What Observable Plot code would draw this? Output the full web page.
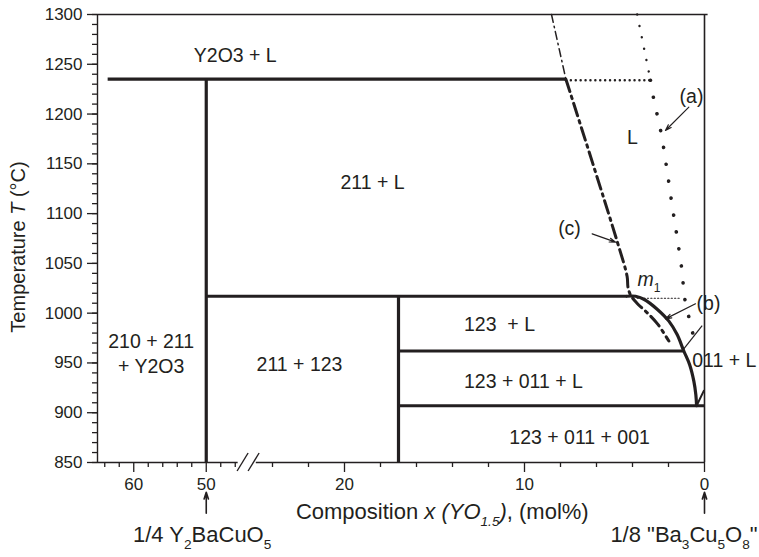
<!DOCTYPE html>
<html><head><meta charset="utf-8">
<script src="https://cdn.jsdelivr.net/npm/d3@7"></script>
<script src="https://cdn.jsdelivr.net/npm/@observablehq/plot@0.6"></script>
<style>
body{margin:0;background:#fff;}
#chart svg{display:block;}
#chart text{white-space:pre;}
</style>
</head><body><div id="chart"></div>
<script>
const INK = "#231f20";
const FONT = "'Liberation Sans', Arial, Helvetica, sans-serif";

// ---- axes ----
const xDomain = [65, 45, 25, 0];          // broken axis: 45 … 25 is cut out
const xMajorTicks = [60, 50, 20, 10, 0];
const xMinorTicks = [64, 62, 58, 56, 54, 52, 48, 46, 24, 22, 18, 16, 14, 12, 8, 6, 4, 2];
const yMajorTicks = [850, 900, 950, 1000, 1050, 1100, 1150, 1200, 1250, 1300];
const yMinorTicks = d3.range(850, 1301, 10);

// ---- solid phase boundaries [x1, T1, x2, T2] ----
const solidSegments = [
  [63.6, 1235, 7.7, 1235],
  [50, 1235, 50, 850],
  [50, 1017, 4.3, 1017],
  [17, 1017, 17, 850],
  [17, 962, 1.15, 962],
  [17, 907, 0, 907]
];
// liquidus of 123 (curved solid line)
const curveX = [4.3, 3.83, 3.37, 2.63, 1.98, 1.52, 1.15, 0.82, 0.59, 0.48, 0.44];
const curveT = [1017, 1017, 1014, 1004, 992, 978.5, 962, 948, 931.5, 918, 907];
// small 011 + L boundary near x = 0
const smallX = [0.44, 0.04];
const smallT = [907, 922];

// ---- (c) dash-dot line ----
const cUpperX = [8.5, 7.7];
const cUpperT = [1300, 1235];
const cLowerX = [7.7, 4.85, 4.3, 4.25, 4.1, 3.75, 3.1, 2.6, 1.98];
const cLowerT = [1235, 1072, 1037, 1026, 1018, 1010, 999, 989, 972];

// ---- (a) dotted line ----
const aUpperX = [3.74, 3.0];
const aUpperT = [1300, 1234];
const aLowerX = [3.0, 2.82, 2.41, 2.11, 1.82, 1.52, 1.24, 1.11, 0.68, 0.5];
const aLowerT = [1234, 1215, 1181, 1147, 1111, 1076, 1041, 1016, 982, 967];
// horizontal dotted tie-lines
const dotted1234 = [[7.7, 1234], [3.0, 1234]];
const dottedM1 = [[3.74, 1015], [1.33, 1015]];

// ---- region labels ----
const regionText = ["Y2O3 + L", "211 + L", "L", "210 + 211\n+ Y2O3", "211 + 123", "123  + L", "123 + 011 + L", "123 + 011 + 001"];
const regionX = [46, 18.44, 4.0, 57.6, 22.5, 11.39, 10.06, 6.94];
const regionT = [1260, 1133, 1177.5, 960.5, 949.5, 989.6, 932.4, 876.1];
// left-anchored labels
const startText = ["011 + L", "*m*_{1}"];
const startX = [0.68, 3.72];
const startT = [952.5, 1033.8];
// curve tags
const tagText = ["(a)", "(b)", "(c)"];
const tagX = [0.72, -0.22, 7.5];
const tagT = [1217.6, 1009.7, 1085];
// pointer arrows [x1, T1, x2, T2]
const pointerArrows = [
  [0.87, 1206.9, 2.17, 1183.5],
  [6.24, 1079.7, 4.94, 1071.3],
  [0.5, 1009.4, 2.17, 994.3]
];
const pointerLines = [[0.13, 987.6, 1.15, 964.2]];
// composition end-member markers below the axis
const endArrowsX = [50, 0];
const endArrowT = [799, 820];
const endLeftText = "1/4 Y_{2}BaCuO_{5}";
const endLeftPos = [60.1, 777];
const endRightText = "1/8 \"Ba_{3}Cu_{5}O_{8}\"";
const endRightPos = [-2.95, 777];
// axis titles
const xTitle = "Composition *x (YO_{1.5})*, (mol%)";
const xTitlePos = [22.7, 800];
const yTitle = "Temperature *T* (°C)";
const yTitlePos = [75.9, 1066.5];

// rich text: *italic*, _{subscript}
function rich(fs) {
  const subFs = fs * 0.62, shift = fs * 0.32;
  return function (index, scales, values, dims, context, next) {
    const g = next(index, scales, values, dims, context);
    for (const t of g.querySelectorAll("text")) {
      const src = t.textContent;
      if (!/[_*]/.test(src)) continue;
      while (t.firstChild) t.removeChild(t.firstChild);
      let italic = false, sub = false, buf = "", cur = 0;
      const flush = () => {
        if (!buf) return;
        const s = document.createElementNS("http://www.w3.org/2000/svg", "tspan");
        s.textContent = buf;
        if (italic) s.setAttribute("font-style", "italic");
        const want = sub ? shift : 0;
        if (want !== cur) s.setAttribute("dy", want - cur);
        cur = want;
        if (sub) s.setAttribute("font-size", subFs);
        t.appendChild(s);
        buf = "";
      };
      for (let i = 0; i < src.length; i++) {
        const c = src[i];
        if (c === "*") { flush(); italic = !italic; }
        else if (c === "_" && src[i + 1] === "{") { flush(); sub = true; i++; }
        else if (c === "}" && sub) { flush(); sub = false; }
        else buf += c;
      }
      flush();
    }
    return g;
  };
}

// axis break marks drawn from the x scale
function axisBreak(index, scales, values, dims) {
  const mid = (scales.x(xDomain[1]) + scales.x(xDomain[2])) / 2;
  const y0 = scales.y(850);
  const g = d3.create("svg:g").attr("stroke", INK).attr("stroke-width", 1.4).attr("fill", "none");
  for (const off of [-5.4, 5.6]) {
    g.append("line").attr("x1", mid + off - 5.5).attr("y1", y0 + 9)
      .attr("x2", mid + off + 5.5).attr("y2", y0 - 9);
  }
  return g.node();
}

const seg = (arr) => arr.map(d => ({x1: d[0], y1: d[1], x2: d[2], y2: d[3]}));
const pts = (xs, ts) => xs.map((x, i) => ({x, y: ts[i]}));

const plot = Plot.plot({
  width: 759,
  height: 557,
  marginTop: 14,
  marginBottom: 95,
  marginLeft: 97,
  marginRight: 55,
  style: {fontFamily: FONT, color: INK, background: "#fff", overflow: "visible"},
  x: {type: "linear", domain: xDomain, range: [97, 242, 254, 704], label: null},
  y: {domain: [850, 1300], label: null},
  marks: [
    // frame
    Plot.ruleX([65], {y1: 850, y2: 1300, stroke: INK, strokeWidth: 1.4}),
    Plot.ruleX([0], {y1: 850, y2: 1300, stroke: INK, strokeWidth: 1.6}),
    Plot.ruleY([1300], {x1: 65, x2: -0.2, stroke: INK, strokeWidth: 1.4}),
    Plot.ruleY([850], {x1: 65, x2: 45.6, stroke: INK, strokeWidth: 1.4}),
    Plot.ruleY([850], {x1: 24.9, x2: 0, stroke: INK, strokeWidth: 1.4}),
    axisBreak,
    // axes
    Plot.axisY(yMinorTicks, {anchor: "left", tickSize: 5, stroke: INK, strokeWidth: 1.3, fill: "none", label: null}),
    Plot.axisY(yMajorTicks, {anchor: "left", tickSize: 10, tickPadding: 5, tickFormat: d => String(d), fontSize: 17, stroke: INK, strokeWidth: 1.3, fill: INK, label: null}),
    Plot.axisX(xMinorTicks, {anchor: "bottom", tickSize: 5, stroke: INK, strokeWidth: 1.3, fill: "none", label: null}),
    Plot.axisX(xMajorTicks, {anchor: "bottom", tickSize: 10, tickPadding: 5, tickFormat: d => String(d), fontSize: 17, stroke: INK, strokeWidth: 1.3, fill: INK, label: null}),
    // dotted / dash-dot boundaries
    Plot.line(dotted1234.map(d => ({x: d[0], y: d[1]})), {x: "x", y: "y", stroke: INK, strokeWidth: 2.4, strokeDasharray: "0.1,4.8", strokeLinecap: "round"}),
    Plot.line(dottedM1.map(d => ({x: d[0], y: d[1]})), {x: "x", y: "y", stroke: INK, strokeWidth: 1.1, strokeDasharray: "1.2,2.2"}),
    Plot.line(pts(aUpperX, aUpperT), {x: "x", y: "y", curve: "catmull-rom", stroke: INK, strokeWidth: 2.4, strokeDasharray: "0.1,11.5", strokeLinecap: "round"}),
    Plot.line(pts(aLowerX, aLowerT), {x: "x", y: "y", curve: "catmull-rom", stroke: INK, strokeWidth: 3.6, strokeDasharray: "0.1,17", strokeLinecap: "round"}),
    Plot.line(pts(cUpperX, cUpperT), {x: "x", y: "y", stroke: INK, strokeWidth: 1.5, strokeDasharray: "8,4,1.5,4"}),
    Plot.line(pts(cLowerX, cLowerT), {x: "x", y: "y", curve: "catmull-rom", stroke: INK, strokeWidth: 3, strokeDasharray: "13,5,2.5,5"}),
    // solid boundaries
    Plot.link(seg(solidSegments), {x1: "x1", y1: "y1", x2: "x2", y2: "y2", stroke: INK, strokeWidth: 3.2}),
    Plot.line(pts(curveX, curveT), {x: "x", y: "y", curve: "catmull-rom", stroke: INK, strokeWidth: 3.2}),
    Plot.line(pts(smallX, smallT), {x: "x", y: "y", stroke: INK, strokeWidth: 2}),
    // pointers
    Plot.arrow(seg(pointerArrows), {x1: "x1", y1: "y1", x2: "x2", y2: "y2", stroke: INK, strokeWidth: 1.2, headLength: 8, headAngle: 36}),
    Plot.link(seg(pointerLines), {x1: "x1", y1: "y1", x2: "x2", y2: "y2", stroke: INK, strokeWidth: 1.2}),
    Plot.arrow(endArrowsX, {x1: d => d, x2: d => d, y1: endArrowT[0], y2: endArrowT[1], stroke: INK, strokeWidth: 1.6, headLength: 8, headAngle: 36}),
    // labels
    Plot.text(regionText, {x: (d, i) => regionX[i], y: (d, i) => regionT[i], text: d => d, fontSize: 19.5, lineHeight: 1.26, fill: INK}),
    Plot.text(startText, {x: (d, i) => startX[i], y: (d, i) => startT[i], text: d => d, fontSize: 19.5, textAnchor: "start", fill: INK, render: rich(19.5)}),
    Plot.text(tagText, {x: (d, i) => tagX[i], y: (d, i) => tagT[i], text: d => d, fontSize: 19.5, fill: INK}),
    Plot.text([endLeftText], {x: endLeftPos[0], y: endLeftPos[1], text: d => d, fontSize: 22, textAnchor: "start", fill: INK, render: rich(22)}),
    Plot.text([endRightText], {x: endRightPos[0], y: endRightPos[1], text: d => d, fontSize: 22, textAnchor: "end", fill: INK, render: rich(22)}),
    Plot.text([xTitle], {x: xTitlePos[0], y: xTitlePos[1], text: d => d, fontSize: 22, textAnchor: "start", fill: INK, render: rich(22)}),
    Plot.text([yTitle], {x: yTitlePos[0], y: yTitlePos[1], text: d => d, fontSize: 20, rotate: -90, fill: INK, render: rich(20)})
  ]
});
document.getElementById("chart").appendChild(plot);
</script>
</body></html>
